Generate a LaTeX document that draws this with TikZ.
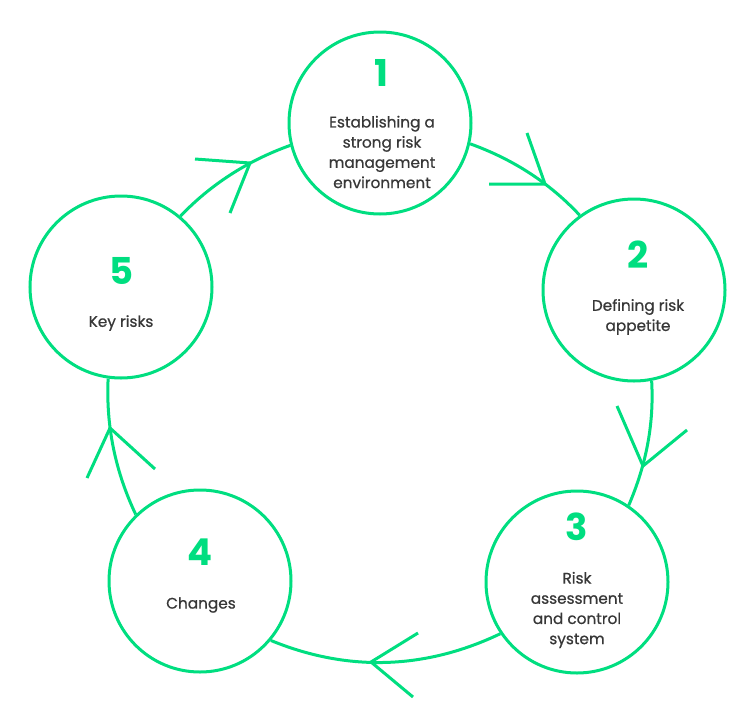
\documentclass[tikz,border=0pt]{standalone}
\usepackage{fontspec}
\setmainfont{Poppins}
\newfontfamily\lblfont{Poppins}[FakeBold=0.7]
\definecolor{grn}{RGB}{0,222,128}
\definecolor{txt}{RGB}{55,55,55}
\begin{document}
\begin{tikzpicture}[x=1pt,y=-1pt,
  stage/.style={circle,draw=grn,line width=3pt,minimum size=182pt,inner sep=0pt},
  num/.style={text=grn,inner sep=0pt,font=\fontsize{37}{37}\selectfont\bfseries},
  lbl/.style={text=txt,inner sep=0pt,align=center,font=\lblfont\fontsize{15.3}{20.2}\selectfont},
  link/.style={draw=grn,line width=3pt},
]
\useasboundingbox (0,0) rectangle (755,718);
% stages
\node[stage] (c1) at (380,123) {};
\node[stage] (c2) at (634,290) {};
\node[stage] (c3) at (577,582) {};
\node[stage] (c4) at (200,581) {};
\node[stage] (c5) at (121,287) {};
% numbers
\node[num] (n1) at (381,73) {1};
\node[num] (n2) at (638,255) {2};
\node[num] (n3) at (577,527) {3};
\node[num] (n4) at (200,552) {4};
\node[num] (n5) at (122,271) {5};
% labels
\node[lbl] (t1) at (382,152) {Establishing a\\strong risk\\management\\environment};
\node[lbl] (t2) at (638,317) {Defining risk\\appetite};
\node[lbl] (t3) at (577,610) {Risk\\assessment\\and control\\system};
\node[lbl] (t4) at (201,605) {Changes};
\node[lbl] (t5) at (121,323) {Key risks};
% arrow tips and barb ends
\coordinate (p12) at (545,184); \coordinate (p12a) at (527,133); \coordinate (p12b) at (489,184);
\coordinate (p23) at (643,466); \coordinate (p23a) at (617,406); \coordinate (p23b) at (687,430);
\coordinate (p34) at (371,662); \coordinate (p34a) at (418,633); \coordinate (p34b) at (413,697);
\coordinate (p45) at (110,428); \coordinate (p45a) at (87,478);  \coordinate (p45b) at (155,469);
\coordinate (p51) at (250,163); \coordinate (p51a) at (195,159); \coordinate (p51b) at (230,213);
% connectors
\draw[link] (c1.-13.6) .. controls (513.3,159.4) and (549.3,182.7) .. (c2.126);
\draw[link] (c2.-79) .. controls (654,422.4) and (647,462.7) .. (c3.56);
\draw[link] (c3.-146) .. controls (425,669.7) and (347.7,672) .. (c4.-40);
\draw[link] (c4.134) .. controls (115.2,471.3) and (105.9,425.7) .. (c5.-98);
\draw[link] (c5.50) .. controls (209.9,185.2) and (246.9,160.9) .. (c1.-166);
% open arrowheads
\draw[link] (p12a) -- (p12) -- (p12b);
\draw[link] (p23a) -- (p23) -- (p23b);
\draw[link] (p34a) -- (p34) -- (p34b);
\draw[link] (p45a) -- (p45) -- (p45b);
\draw[link] (p51a) -- (p51) -- (p51b);
\end{tikzpicture}
\end{document}
